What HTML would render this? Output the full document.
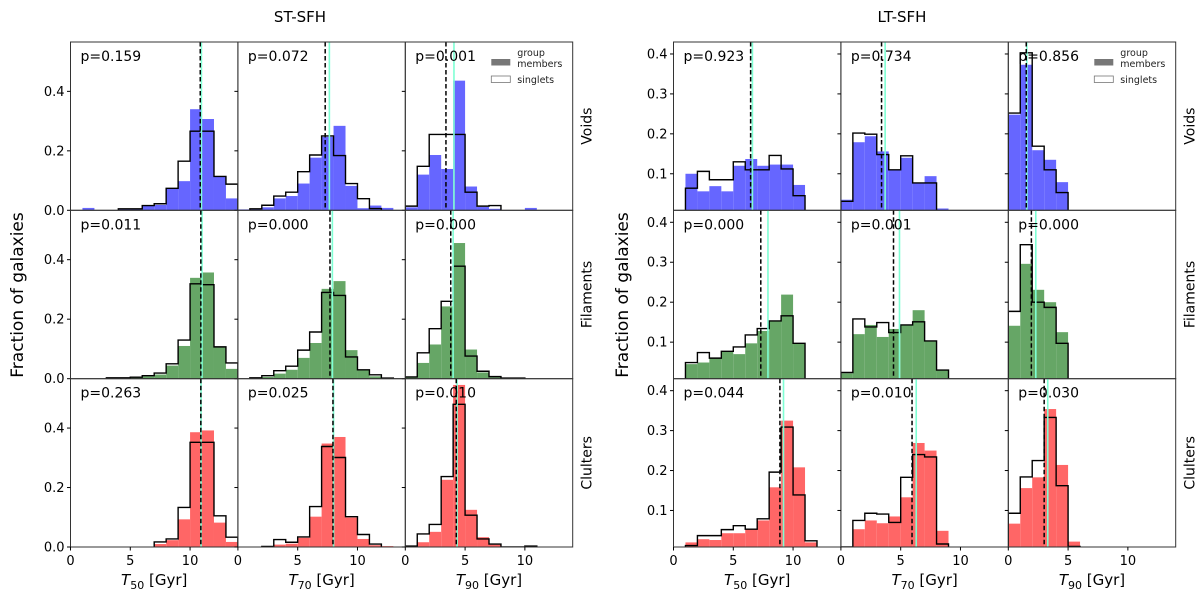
<!DOCTYPE html>
<html><head><meta charset="utf-8">
<style>
body{margin:0;background:#fff;}
svg{display:block;font-family:"DejaVu Sans","Liberation Sans",sans-serif;}
</style></head>
<body>
<svg id="fig" width="1200" height="598" viewBox="0 0 1200 598">
<text x="300" y="22" font-size="15" text-anchor="middle">ST-SFH</text>
<text x="902" y="22" font-size="15" text-anchor="middle">LT-SFH</text>
<text transform="translate(23,295) rotate(-90)" font-size="17" text-anchor="middle">Fraction of galaxies</text>
<text transform="translate(628,295) rotate(-90)" font-size="17" text-anchor="middle">Fraction of galaxies</text>
</svg>
<script>
// ---- data (bins of 1 Gyr, starting at 0) ----
const binEdgesStart = 0;
const pLeft = ["0.159","0.072","0.001","0.011","0.000","0.000","0.263","0.025","0.010"];
const pRight = ["0.923","0.734","0.856","0.000","0.001","0.000","0.044","0.010","0.030"];
const rowNames = ["Voids","Filaments","Clulters"];
const colLabels = ["50","70","90"];
const xTicks = [0,5,10];
const yTicksLeft = [0.0,0.2,0.4];
const yTicksRight = [0.1,0.2,0.3,0.4];

const grpL50V=[0,0.008,0,0,0.005,0.005,0.016,0.018,0.073,0.098,0.34,0.307,0.114,0.04];
const sngL50V=[0,0,0,0,0.005,0.005,0.016,0.022,0.074,0.165,0.266,0.266,0.114,0.088];
const grpL70V=[0.003,0.005,0.01,0.04,0.048,0.09,0.177,0.247,0.284,0.082,0.007,0.016,0.008,0];
const sngL70V=[0,0.005,0.017,0.048,0.061,0.13,0.186,0.25,0.184,0.09,0.039,0.006,0,0];
const grpL90V=[0.01,0.12,0.186,0.139,0.436,0.08,0.011,0.005,0,0,0.008,0,0,0];
const sngL90V=[0.014,0.148,0.255,0.255,0.255,0.061,0.014,0.016,0,0,0,0,0,0];
const grpL50F=[0,0,0,0.003,0.003,0.005,0.008,0.014,0.044,0.11,0.339,0.357,0.107,0.033];
const sngL50F=[0,0,0,0.003,0.003,0.005,0.01,0.019,0.05,0.13,0.319,0.316,0.107,0.053];
const grpL70F=[0,0.003,0.006,0.017,0.03,0.07,0.12,0.302,0.328,0.096,0.028,0.008,0,0];
const sngL70F=[0,0.003,0.01,0.027,0.042,0.096,0.157,0.29,0.28,0.073,0.03,0.013,0.002,0];
const grpL90F=[0.004,0.053,0.115,0.243,0.456,0.098,0.021,0.005,0.002,0.002,0,0,0,0];
const sngL90F=[0.006,0.087,0.168,0.26,0.378,0.076,0.025,0.007,0.002,0.002,0,0,0,0];
const grpL50C=[0,0,0,0,0,0,0,0.01,0.023,0.093,0.386,0.392,0.082,0.017];
const sngL50C=[0,0,0,0,0,0,0,0.017,0.027,0.133,0.352,0.352,0.105,0.033];
const grpL70C=[0,0,0.002,0.008,0.011,0.031,0.102,0.348,0.37,0.099,0.027,0.006,0.003,0];
const sngL70C=[0,0,0.002,0.025,0.016,0.034,0.136,0.338,0.301,0.102,0.042,0.01,0,0];
const grpL90C=[0.003,0.016,0.051,0.226,0.545,0.125,0.033,0.008,0,0,0,0,0,0];
const sngL90C=[0.003,0.044,0.076,0.237,0.48,0.107,0.027,0.01,0,0,0.003,0,0,0];

const grpR50V=[0,0.1,0.056,0.069,0.056,0.12,0.137,0.12,0.123,0.123,0.072,0,0,0];
const sngR50V=[0,0.064,0.106,0.085,0.085,0.13,0.11,0.11,0.146,0.112,0.045,0,0,0];
const grpR70V=[0.035,0.179,0.194,0.156,0.109,0.14,0.077,0.094,0.013,0,0,0,0,0];
const sngR70V=[0.031,0.202,0.199,0.148,0.11,0.145,0.077,0.077,0,0,0,0,0,0];
const grpR90V=[0.248,0.373,0.159,0.135,0.079,0,0,0,0,0,0,0,0,0];
const sngR90V=[0.252,0.403,0.169,0.11,0.053,0,0,0,0,0,0,0,0,0];
const grpR50F=[0,0.045,0.049,0.06,0.077,0.07,0.097,0.128,0.153,0.219,0.097,0,0,0];
const sngR50F=[0,0.049,0.074,0.06,0.077,0.088,0.118,0.134,0.153,0.166,0.097,0,0,0];
const grpR70F=[0.022,0.12,0.143,0.113,0.133,0.143,0.18,0.103,0.03,0,0,0,0,0];
const sngR70F=[0.024,0.158,0.138,0.149,0.124,0.143,0.151,0.103,0.03,0,0,0,0,0];
const grpR90F=[0.141,0.296,0.231,0.2,0.125,0,0,0,0,0,0,0,0,0];
const sngR90F=[0.177,0.344,0.2,0.187,0.097,0,0,0,0,0,0,0,0,0];
const grpR50C=[0,0.02,0.028,0.026,0.043,0.043,0.053,0.075,0.158,0.325,0.208,0.02,0,0];
const sngR50C=[0,0.012,0.037,0.037,0.052,0.062,0.053,0.079,0.196,0.309,0.139,0.024,0,0];
const grpR70C=[0.008,0.053,0.075,0.068,0.085,0.133,0.269,0.25,0.049,0.003,0,0,0,0];
const sngR70C=[0.006,0.075,0.093,0.091,0.07,0.183,0.24,0.234,0.016,0,0,0,0,0];
const grpR90C=[0.067,0.156,0.183,0.354,0.214,0.022,0.001,0,0,0,0,0,0,0];
const sngR90C=[0.093,0.184,0.225,0.333,0.162,0.01,0,0,0,0,0,0,0,0];

// medians: [singlets (dashed), group members (cyan)]
const medL=[[10.85,10.95],[7.3,7.65],[3.4,4.07],[10.9,11.0],[7.7,7.9],[3.8,4.0],[10.9,10.92],[7.95,8.0],[4.26,4.33]];
const medR=[[6.45,6.6],[3.4,3.7],[1.5,1.55],[7.3,7.9],[4.4,4.9],[1.93,2.3],[8.9,9.2],[5.95,6.3],[3.0,3.3]];

const grpL=[grpL50V,grpL70V,grpL90V,grpL50F,grpL70F,grpL90F,grpL50C,grpL70C,grpL90C];
const sngL=[sngL50V,sngL70V,sngL90V,sngL50F,sngL70F,sngL90F,sngL50C,sngL70C,sngL90C];
const grpR=[grpR50V,grpR70V,grpR90V,grpR50F,grpR70F,grpR90F,grpR50C,grpR70C,grpR90C];
const sngR=[sngR50V,sngR70V,sngR90V,sngR50F,sngR70F,sngR90F,sngR50C,sngR70C,sngR90C];

// ---- drawing ----
const NS="http://www.w3.org/2000/svg";
const svg=document.getElementById('fig');
const fills=["#6666ff","#66a666","#ff6666"];
const PW=167.4, rowsY=[42,210.3,378.7,547];
const XMAX=14;

function mk(tag,attrs,parent){const e=document.createElementNS(NS,tag);for(const k in attrs)e.setAttribute(k,attrs[k]);(parent||svg).appendChild(e);return e;}

function block(x0,grp,sng,med,pv,ymin,ymax,yTicks,tag){
  for(let r=0;r<3;r++){
    const top=rowsY[r], bot=rowsY[r+1], H=bot-top;
    const sy=v=>bot-(Math.max(v,ymin)-ymin)/(ymax-ymin)*H;
    for(let c=0;c<3;c++){
      const i=r*3+c, px=x0+c*PW;
      const sx=v=>px+v/XMAX*PW;
      const g=mk('g',{});
      
      
      const clip='clip'+tag+i;
      const cp=mk('clipPath',{id:clip},g);mk('rect',{x:px,y:top,width:PW,height:H},cp);
      const inner=mk('g',{'clip-path':'url(#'+clip+')'},g);
      grp[i].forEach((v,b)=>{
        if(v<=ymin)return;
        const bar=mk('rect',{x:sx(binEdgesStart+b),y:sy(v),width:sx(b+1)-sx(b),height:bot-sy(v),fill:fills[r]},inner);
        
        
      });
      let first=sng[i].findIndex(v=>v>0), last=sng[i].length-1;
      while(last>0&&sng[i][last]===0)last--;
      if(first>=0){
        let d='M'+sx(first)+','+bot;
        for(let b=first;b<=last;b++){d+=' L'+sx(b)+','+sy(sng[i][b])+' L'+sx(b+1)+','+sy(sng[i][b]);}
        d+=' L'+sx(last+1)+','+bot;
        const st=mk('path',{d:d,fill:'none',stroke:'#000','stroke-width':1.4},inner);
        
        
      }
      const ml=mk('line',{x1:sx(med[i][1]),x2:sx(med[i][1]),y1:top,y2:bot,stroke:'#7fffd4','stroke-width':1.6},inner);
      
      
      const dl=mk('line',{x1:sx(med[i][0]),x2:sx(med[i][0]),y1:top,y2:bot,stroke:'#000','stroke-width':1.5,'stroke-dasharray':'4.5,2.5'},inner);
      
      
      const fr=mk('rect',{x:px,y:top,width:PW,height:H,fill:'none',stroke:'#333','stroke-width':1},g);
      
      
      const pt=mk('text',{x:px+10,y:top+19,'font-size':14},g);pt.textContent='p='+pv[i];
      
      
      // y ticks (all columns have tick marks; labels only first)
      yTicks.forEach(t=>{
        const y=sy(t);
        mk('line',{x1:px-3.5,x2:px,y1:y,y2:y,stroke:'#000'},g);
        if(c===0){const tl=mk('text',{x:px-6,y:y+4.5,'font-size':13,'text-anchor':'end'},g);tl.textContent=t.toFixed(1);
          
          }
      });
      if(r===2){
        xTicks.forEach(t=>{
          const x=sx(t);
          mk('line',{x1:x,x2:x,y1:bot,y2:bot+3.5,stroke:'#000'},g);
          const tl=mk('text',{x:x,y:bot+18,'font-size':13,'text-anchor':'middle'},g);tl.textContent=t;
          
          
        });
        const xl=mk('text',{x:px+PW/2,y:bot+38,'font-size':15,'text-anchor':'middle'},g);
        xl.innerHTML='<tspan font-style="italic">T</tspan><tspan font-size="11" dy="4">'+colLabels[c]+'</tspan><tspan dy="-4"> [Gyr]</tspan>';
        
        
      }
      if(c===2){
        const rl=mk('text',{transform:'translate('+(px+PW+19)+','+((top+bot)/2)+') rotate(-90)','font-size':14,'text-anchor':'middle'},g);
        rl.textContent=rowNames[r];
        
        
      }
      if(r===0&&c===2){
        const lg=mk('g',{},g);
        
        
        mk('rect',{x:px+86,y:top+17,width:19,height:6.5,fill:'#777'},lg);
        const t1=mk('text',{x:px+112,y:top+14,'font-size':9.5,fill:'#222'},lg);t1.textContent='group';
        const t2=mk('text',{x:px+112,y:top+25,'font-size':9.5,fill:'#222'},lg);t2.textContent='members';
        mk('rect',{x:px+86,y:top+34,width:19,height:6.5,fill:'#fff',stroke:'#777','stroke-width':0.8},lg);
        const t3=mk('text',{x:px+112,y:top+41,'font-size':9.5,fill:'#222'},lg);t3.textContent='singlets';
        
        
      }
    }
  }
}
block(70.5,grpL,sngL,medL,pLeft,0,0.566,yTicksLeft,'st');
block(673.5,grpR,sngR,medR,pRight,0.0085,0.43,yTicksRight,'lt');
</script>
</body></html>
